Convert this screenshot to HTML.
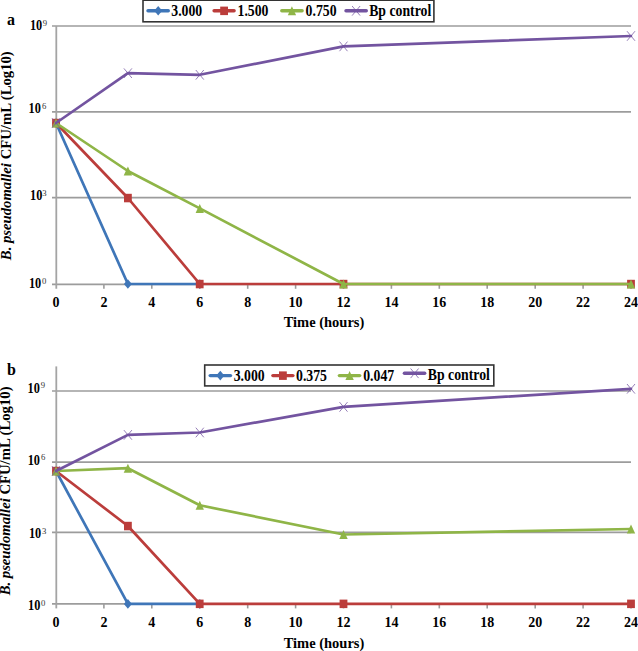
<!DOCTYPE html>
<html><head><meta charset="utf-8"><title>Figure</title>
<style>
html,body{margin:0;padding:0;background:#fff;}
svg{display:block;}
text{font-family:"Liberation Serif",serif;font-weight:bold;fill:#000;}
.yt{font-size:14px;}
.sup{font-size:8.7px;font-weight:normal;fill:#333;}
.xt{font-size:14px;text-anchor:middle;}
.xl{font-size:14.5px;text-anchor:middle;}
.yl{font-size:14.7px;text-anchor:middle;}
.lg{font-size:16.2px;}
.pl{font-size:16px;}
</style></head>
<body>
<svg width="638" height="651" viewBox="0 0 638 651">
<rect width="638" height="651" fill="#fff"/>
<text x="7" y="24.6" class="pl">a</text>
<text x="7" y="374.8" class="pl">b</text>
<line x1="52" y1="26.0" x2="631" y2="26.0" stroke="#9c9c9c" stroke-width="1.7"/>
<line x1="52" y1="111.8" x2="631" y2="111.8" stroke="#9c9c9c" stroke-width="1.7"/>
<line x1="52" y1="197.6" x2="631" y2="197.6" stroke="#9c9c9c" stroke-width="1.7"/>
<line x1="52" y1="284.3" x2="631" y2="284.3" stroke="#9c9c9c" stroke-width="1.7"/>
<line x1="56.3" y1="26.0" x2="56.3" y2="288.8" stroke="#a4a4a4" stroke-width="1.8"/>
<line x1="103.9" y1="284.3" x2="103.9" y2="288.8" stroke="#9c9c9c" stroke-width="1.6"/>
<line x1="151.8" y1="284.3" x2="151.8" y2="288.8" stroke="#9c9c9c" stroke-width="1.6"/>
<line x1="199.8" y1="284.3" x2="199.8" y2="288.8" stroke="#9c9c9c" stroke-width="1.6"/>
<line x1="247.7" y1="284.3" x2="247.7" y2="288.8" stroke="#9c9c9c" stroke-width="1.6"/>
<line x1="295.6" y1="284.3" x2="295.6" y2="288.8" stroke="#9c9c9c" stroke-width="1.6"/>
<line x1="343.5" y1="284.3" x2="343.5" y2="288.8" stroke="#9c9c9c" stroke-width="1.6"/>
<line x1="391.4" y1="284.3" x2="391.4" y2="288.8" stroke="#9c9c9c" stroke-width="1.6"/>
<line x1="439.3" y1="284.3" x2="439.3" y2="288.8" stroke="#9c9c9c" stroke-width="1.6"/>
<line x1="487.2" y1="284.3" x2="487.2" y2="288.8" stroke="#9c9c9c" stroke-width="1.6"/>
<line x1="535.2" y1="284.3" x2="535.2" y2="288.8" stroke="#9c9c9c" stroke-width="1.6"/>
<line x1="583.1" y1="284.3" x2="583.1" y2="288.8" stroke="#9c9c9c" stroke-width="1.6"/>
<line x1="631.0" y1="284.3" x2="631.0" y2="288.8" stroke="#9c9c9c" stroke-width="1.6"/>
<text transform="translate(29.9 30.2) scale(0.88 1)" class="yt">10</text><text x="42.7" y="26.0" class="sup">9</text>
<text transform="translate(28.6 113.2) scale(0.88 1)" class="yt">10</text><text x="41.9" y="108.9" class="sup">6</text>
<text transform="translate(30.0 200.3) scale(0.88 1)" class="yt">10</text><text x="42.2" y="195.9" class="sup">3</text>
<text transform="translate(28.9 288.0) scale(0.88 1)" class="yt">10</text><text x="41.9" y="283.6" class="sup">0</text>
<text x="56.0" y="306.6" class="xt">0</text>
<text x="103.9" y="306.6" class="xt">2</text>
<text x="151.8" y="306.6" class="xt">4</text>
<text x="199.8" y="306.6" class="xt">6</text>
<text x="247.7" y="306.6" class="xt">8</text>
<text x="295.6" y="306.6" class="xt">10</text>
<text x="343.5" y="306.6" class="xt">12</text>
<text x="391.4" y="306.6" class="xt">14</text>
<text x="439.3" y="306.6" class="xt">16</text>
<text x="487.2" y="306.6" class="xt">18</text>
<text x="535.2" y="306.6" class="xt">20</text>
<text x="583.1" y="306.6" class="xt">22</text>
<text x="631.0" y="306.6" class="xt">24</text>
<text x="324" y="327.2" class="xl">Time (hours)</text>
<text transform="translate(11.2 155.7) rotate(-90)" class="yl"><tspan font-style="italic">B. pseudomallei</tspan> CFU/mL (Log10)</text>
<path d="M56.0 123.0L127.9 284.0L199.8 284.0" fill="none" stroke="#3f76b8" stroke-width="2.7" stroke-linejoin="round" stroke-linecap="round"/>
<path d="M56.0 118.2L60.0 123.0L56.0 127.8L52.0 123.0Z" fill="#3f76b8"/>
<path d="M127.9 279.2L131.9 284.0L127.9 288.8L123.9 284.0Z" fill="#3f76b8"/>
<path d="M199.8 279.2L203.8 284.0L199.8 288.8L195.8 284.0Z" fill="#3f76b8"/>
<path d="M56.0 123.0L127.9 198.0L199.8 284.0L343.5 284.0L631.0 284.0" fill="none" stroke="#bb3d3b" stroke-width="2.7" stroke-linejoin="round" stroke-linecap="round"/>
<rect x="52.1" y="118.8" width="7.8" height="8.5" fill="#bb3d3b"/>
<rect x="124.0" y="193.8" width="7.8" height="8.5" fill="#bb3d3b"/>
<rect x="195.8" y="279.8" width="7.8" height="8.5" fill="#bb3d3b"/>
<rect x="339.6" y="279.8" width="7.8" height="8.5" fill="#bb3d3b"/>
<rect x="627.1" y="279.8" width="7.8" height="8.5" fill="#bb3d3b"/>
<path d="M56.0 123.0L127.9 171.0L199.8 208.4L343.5 284.0L631.0 284.0" fill="none" stroke="#8fb547" stroke-width="2.7" stroke-linejoin="round" stroke-linecap="round"/>
<path d="M56.0 118.5L60.2 127.5L51.8 127.5Z" fill="#8fb547"/>
<path d="M127.9 166.5L132.1 175.5L123.7 175.5Z" fill="#8fb547"/>
<path d="M199.8 203.9L203.9 212.9L195.6 212.9Z" fill="#8fb547"/>
<path d="M343.5 279.5L347.7 288.5L339.3 288.5Z" fill="#8fb547"/>
<path d="M631.0 279.5L635.2 288.5L626.8 288.5Z" fill="#8fb547"/>
<path d="M56.0 123.0L127.9 73.2L199.8 74.8L343.5 46.4L631.0 36.0" fill="none" stroke="#7354a0" stroke-width="2.7" stroke-linejoin="round" stroke-linecap="round"/>
<path d="M52.0 118.2L60.0 127.8M60.0 118.2L52.0 127.8" stroke="#7354a0" stroke-width="1.0" fill="none" opacity="0.75"/>
<path d="M123.9 68.4L131.9 78.0M131.9 68.4L123.9 78.0" stroke="#7354a0" stroke-width="1.0" fill="none" opacity="0.75"/>
<path d="M195.8 70.0L203.8 79.6M203.8 70.0L195.8 79.6" stroke="#7354a0" stroke-width="1.0" fill="none" opacity="0.75"/>
<path d="M339.5 41.6L347.5 51.2M347.5 41.6L339.5 51.2" stroke="#7354a0" stroke-width="1.0" fill="none" opacity="0.75"/>
<path d="M627.0 31.2L635.0 40.8M635.0 31.2L627.0 40.8" stroke="#7354a0" stroke-width="1.0" fill="none" opacity="0.75"/>
<rect x="143.0" y="0.2" width="290.9" height="21.6" fill="#fff" stroke="#333" stroke-width="1.6"/>
<line x1="148.0" y1="10.8" x2="168.3" y2="10.8" stroke="#3f76b8" stroke-width="3.4" stroke-linecap="round"/>
<path d="M158.2 6.0L162.2 10.8L158.2 15.6L154.2 10.8Z" fill="#3f76b8"/>
<text transform="translate(171.3 15.7) scale(0.85 1)" class="lg">3.000</text>
<line x1="214.1" y1="10.8" x2="234.1" y2="10.8" stroke="#bb3d3b" stroke-width="3.4" stroke-linecap="round"/>
<rect x="220.2" y="6.6" width="7.8" height="8.5" fill="#bb3d3b"/>
<text transform="translate(237.5 15.7) scale(0.85 1)" class="lg">1.500</text>
<line x1="281.8" y1="10.8" x2="302.1" y2="10.8" stroke="#8fb547" stroke-width="3.4" stroke-linecap="round"/>
<path d="M291.9 6.3L296.1 15.3L287.8 15.3Z" fill="#8fb547"/>
<text transform="translate(305.6 15.7) scale(0.85 1)" class="lg">0.750</text>
<line x1="346.0" y1="10.8" x2="366.3" y2="10.8" stroke="#7354a0" stroke-width="3.4" stroke-linecap="round"/>
<path d="M352.1 6.0L360.1 15.6M360.1 6.0L352.1 15.6" stroke="#7354a0" stroke-width="1.0" fill="none" opacity="0.75"/>
<text transform="translate(369.2 16.2) scale(0.85 1)" class="lg">Bp control</text>
<line x1="52" y1="391.0" x2="631" y2="391.0" stroke="#9c9c9c" stroke-width="1.7"/>
<line x1="52" y1="462.2" x2="631" y2="462.2" stroke="#9c9c9c" stroke-width="1.7"/>
<line x1="52" y1="532.4" x2="631" y2="532.4" stroke="#9c9c9c" stroke-width="1.7"/>
<line x1="52" y1="603.9" x2="631" y2="603.9" stroke="#9c9c9c" stroke-width="1.7"/>
<line x1="56.3" y1="366.4" x2="56.3" y2="608.4" stroke="#a4a4a4" stroke-width="1.8"/>
<line x1="103.9" y1="603.9" x2="103.9" y2="608.4" stroke="#9c9c9c" stroke-width="1.6"/>
<line x1="151.8" y1="603.9" x2="151.8" y2="608.4" stroke="#9c9c9c" stroke-width="1.6"/>
<line x1="199.8" y1="603.9" x2="199.8" y2="608.4" stroke="#9c9c9c" stroke-width="1.6"/>
<line x1="247.7" y1="603.9" x2="247.7" y2="608.4" stroke="#9c9c9c" stroke-width="1.6"/>
<line x1="295.6" y1="603.9" x2="295.6" y2="608.4" stroke="#9c9c9c" stroke-width="1.6"/>
<line x1="343.5" y1="603.9" x2="343.5" y2="608.4" stroke="#9c9c9c" stroke-width="1.6"/>
<line x1="391.4" y1="603.9" x2="391.4" y2="608.4" stroke="#9c9c9c" stroke-width="1.6"/>
<line x1="439.3" y1="603.9" x2="439.3" y2="608.4" stroke="#9c9c9c" stroke-width="1.6"/>
<line x1="487.2" y1="603.9" x2="487.2" y2="608.4" stroke="#9c9c9c" stroke-width="1.6"/>
<line x1="535.2" y1="603.9" x2="535.2" y2="608.4" stroke="#9c9c9c" stroke-width="1.6"/>
<line x1="583.1" y1="603.9" x2="583.1" y2="608.4" stroke="#9c9c9c" stroke-width="1.6"/>
<line x1="631.0" y1="603.9" x2="631.0" y2="608.4" stroke="#9c9c9c" stroke-width="1.6"/>
<text transform="translate(27.6 392.5) scale(0.88 1)" class="yt">10</text><text x="40.7" y="388.1" class="sup">9</text>
<text transform="translate(27.7 464.9) scale(0.88 1)" class="yt">10</text><text x="40.9" y="460.1" class="sup">6</text>
<text transform="translate(28.9 538.0) scale(0.88 1)" class="yt">10</text><text x="42.0" y="534.4" class="sup">3</text>
<text transform="translate(28.0 610.1) scale(0.88 1)" class="yt">10</text><text x="41.1" y="605.8" class="sup">0</text>
<text x="56.0" y="626.6" class="xt">0</text>
<text x="103.9" y="626.6" class="xt">2</text>
<text x="151.8" y="626.6" class="xt">4</text>
<text x="199.8" y="626.6" class="xt">6</text>
<text x="247.7" y="626.6" class="xt">8</text>
<text x="295.6" y="626.6" class="xt">10</text>
<text x="343.5" y="626.6" class="xt">12</text>
<text x="391.4" y="626.6" class="xt">14</text>
<text x="439.3" y="626.6" class="xt">16</text>
<text x="487.2" y="626.6" class="xt">18</text>
<text x="535.2" y="626.6" class="xt">20</text>
<text x="583.1" y="626.6" class="xt">22</text>
<text x="631.0" y="626.6" class="xt">24</text>
<text x="324" y="647.6" class="xl">Time (hours)</text>
<text transform="translate(10.4 490.9) rotate(-90)" class="yl"><tspan font-style="italic">B. pseudomallei</tspan> CFU/mL (Log10)</text>
<path d="M56.0 471.0L127.9 603.9L199.8 603.9" fill="none" stroke="#3f76b8" stroke-width="2.7" stroke-linejoin="round" stroke-linecap="round"/>
<path d="M56.0 466.2L60.0 471.0L56.0 475.8L52.0 471.0Z" fill="#3f76b8"/>
<path d="M127.9 599.1L131.9 603.9L127.9 608.7L123.9 603.9Z" fill="#3f76b8"/>
<path d="M199.8 599.1L203.8 603.9L199.8 608.7L195.8 603.9Z" fill="#3f76b8"/>
<path d="M56.0 471.0L127.9 526.0L199.8 603.9L343.5 603.9L631.0 603.9" fill="none" stroke="#bb3d3b" stroke-width="2.7" stroke-linejoin="round" stroke-linecap="round"/>
<rect x="52.1" y="466.8" width="7.8" height="8.5" fill="#bb3d3b"/>
<rect x="124.0" y="521.8" width="7.8" height="8.5" fill="#bb3d3b"/>
<rect x="195.8" y="599.6" width="7.8" height="8.5" fill="#bb3d3b"/>
<rect x="339.6" y="599.6" width="7.8" height="8.5" fill="#bb3d3b"/>
<rect x="627.1" y="599.6" width="7.8" height="8.5" fill="#bb3d3b"/>
<path d="M56.0 471.0L127.9 468.2L199.8 505.3L343.5 534.5L631.0 529.0" fill="none" stroke="#8fb547" stroke-width="2.7" stroke-linejoin="round" stroke-linecap="round"/>
<path d="M56.0 466.5L60.2 475.5L51.8 475.5Z" fill="#8fb547"/>
<path d="M127.9 463.7L132.1 472.7L123.7 472.7Z" fill="#8fb547"/>
<path d="M199.8 500.8L203.9 509.8L195.6 509.8Z" fill="#8fb547"/>
<path d="M343.5 530.0L347.7 539.0L339.3 539.0Z" fill="#8fb547"/>
<path d="M631.0 524.5L635.2 533.5L626.8 533.5Z" fill="#8fb547"/>
<path d="M56.0 471.0L127.9 434.9L199.8 432.5L343.5 406.9L631.0 388.8" fill="none" stroke="#7354a0" stroke-width="2.7" stroke-linejoin="round" stroke-linecap="round"/>
<path d="M52.0 466.2L60.0 475.8M60.0 466.2L52.0 475.8" stroke="#7354a0" stroke-width="1.0" fill="none" opacity="0.75"/>
<path d="M123.9 430.1L131.9 439.7M131.9 430.1L123.9 439.7" stroke="#7354a0" stroke-width="1.0" fill="none" opacity="0.75"/>
<path d="M195.8 427.7L203.8 437.3M203.8 427.7L195.8 437.3" stroke="#7354a0" stroke-width="1.0" fill="none" opacity="0.75"/>
<path d="M339.5 402.1L347.5 411.7M347.5 402.1L339.5 411.7" stroke="#7354a0" stroke-width="1.0" fill="none" opacity="0.75"/>
<path d="M627.0 384.0L635.0 393.6M635.0 384.0L627.0 393.6" stroke="#7354a0" stroke-width="1.0" fill="none" opacity="0.75"/>
<rect x="204.7" y="365.0" width="289.1" height="20.9" fill="#fff" stroke="#333" stroke-width="1.6"/>
<line x1="210.2" y1="375.6" x2="230.5" y2="375.6" stroke="#3f76b8" stroke-width="3.4" stroke-linecap="round"/>
<path d="M220.3 370.8L224.3 375.6L220.3 380.4L216.3 375.6Z" fill="#3f76b8"/>
<text transform="translate(233.7 381.2) scale(0.85 1)" class="lg">3.000</text>
<line x1="272.9" y1="375.6" x2="292.9" y2="375.6" stroke="#bb3d3b" stroke-width="3.4" stroke-linecap="round"/>
<rect x="279.0" y="371.4" width="7.8" height="8.5" fill="#bb3d3b"/>
<text transform="translate(296.0 381.2) scale(0.85 1)" class="lg">0.375</text>
<line x1="339.4" y1="375.6" x2="359.7" y2="375.6" stroke="#8fb547" stroke-width="3.4" stroke-linecap="round"/>
<path d="M349.6 371.1L353.8 380.1L345.4 380.1Z" fill="#8fb547"/>
<text transform="translate(363.2 381.2) scale(0.85 1)" class="lg">0.047</text>
<line x1="404.4" y1="373.3" x2="424.7" y2="373.3" stroke="#7354a0" stroke-width="3.4" stroke-linecap="round"/>
<path d="M410.6 368.5L418.6 378.1M418.6 368.5L410.6 378.1" stroke="#7354a0" stroke-width="1.0" fill="none" opacity="0.75"/>
<text transform="translate(427.8 379.6) scale(0.85 1)" class="lg">Bp control</text>
</svg>
</body></html>
